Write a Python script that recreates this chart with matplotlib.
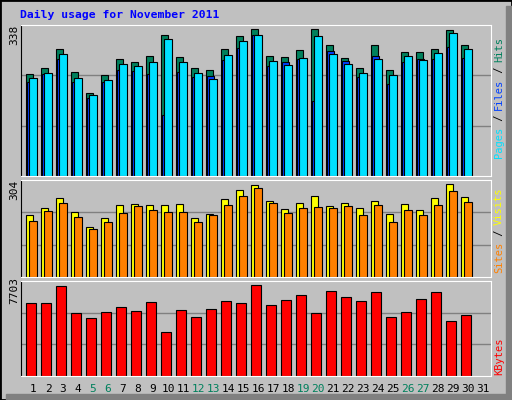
import matplotlib
matplotlib.use("Agg")
import matplotlib.pyplot as plt
from matplotlib.patches import Rectangle

days = list(range(1, 32))
hits = [228,242,285,233,185,226,262,255,269,316,266,242,238,285,313,329,269,266,282,329,293,264,242,293,237,278,278,285,327,293]
files = [210,229,262,210,174,210,237,234,228,136,233,221,224,260,286,316,246,255,262,168,279,257,221,269,206,255,262,262,289,264]
pages = [219,230,273,219,181,214,251,246,255,307,255,230,217,271,302,316,257,248,264,313,273,251,231,262,226,269,260,275,320,284]
visits = [193,215,247,203,156,184,225,228,225,225,228,184,196,243,272,287,237,212,231,253,222,231,215,237,196,228,209,247,290,250]
sites = [175,206,231,187,149,171,200,222,209,203,203,171,193,225,253,278,231,200,215,218,215,222,193,225,171,209,193,225,269,234]
kbytes = [5925,5925,7298,5117,4713,5198,5601,5278,6005,3582,5359,4794,5440,6086,5925,7379,5763,6167,6571,5117,6894,6409,6086,6813,4794,5198,6248,6813,4470,4955]
weekends = [5,6,12,13,19,20,26,27]
title = "Daily usage for November 2011"

W, H = 512, 400
fig = plt.figure(figsize=(W/100, H/100), dpi=100)
fig.patch.set_facecolor("#C0C0C0")
mono = "DejaVu Sans Mono"

fig.add_artist(Rectangle((0, 0), 1, 1, transform=fig.transFigure, fill=False, ec="black", lw=2))
fig.add_artist(Rectangle((1-6/W, 0), 6/W, 1-6/H, transform=fig.transFigure, color="#808080"))
fig.add_artist(Rectangle((6/W, 0), 1-6/W, 6/H, transform=fig.transFigure, color="#808080"))
fig.text(20/W, 1-15/H, title, color="#0000FF", fontsize=8.2, fontweight="bold", family=mono, va="center")

def mkax(top, bot, ymax, label):
    ax = fig.add_axes([21/W, 1-bot/H, (491-21)/W, (bot-top)/H])
    ax.set_facecolor("#C0C0C0")
    ax.set_xlim(0.2, 31.53)
    ax.set_ylim(0, ymax)
    for y in (ymax/3, 2*ymax/3):
        ax.axhline(y, color="#808080", lw=1, zorder=0)
    ax.set_xticks([]); ax.set_yticks([])
    for s in ("top", "right", "bottom"):
        ax.spines[s].set_color("white")
    ax.spines["left"].set_color("black")
    fig.text(14/W, 1-(top+10)/H, label, rotation=90, fontsize=8, family=mono, ha="center", va="center")
    return ax

def bars(ax, vals, off, w, color):
    ax.bar([d+off for d in days[:len(vals)]], vals, width=w, align="edge", color=color, ec="black", lw=0.8)

ax1 = mkax(25, 176, 338, "338")
bars(ax1, hits, -0.50, 0.48, "#00805C")
bars(ax1, files, -0.37, 0.42, "#0040FF")
bars(ax1, pages, -0.24, 0.48, "#00E0FF")

ax2 = mkax(180, 277, 304, "304")
bars(ax2, visits, -0.50, 0.48, "#FFFF00")
bars(ax2, sites, -0.24, 0.48, "#FF8000")

ax3 = mkax(281, 376, 7703, "7703")
bars(ax3, kbytes, -0.44, 0.62, "#FF0000")

def side(parts, ycenter):
    total = sum(len(t) for t, _ in parts)
    ch = 6.0
    y0 = ycenter + total*ch/2
    for t, c in parts:
        fig.text(499/W, 1-(y0 - len(t)*ch/2)/H, t, color=c, rotation=90, fontsize=7.5, family=mono, ha="center", va="center")
        y0 -= len(t)*ch

side([("Pages", "#00E0FF"), (" / ", "black"), ("Files", "#0040FF"), (" / ", "black"), ("Hits", "#00805C")], 97)
side([("Sites", "#FF8000"), (" / ", "black"), ("Visits", "#FFFF00")], 230)
side([("KBytes", "#FF0000")], 356)

for d in days:
    x = 21 + (d - 0.2) * 15.0
    fig.text(x/W, 1-389/H, str(d), color="#00805C" if d in weekends else "black",
             fontsize=8, family=mono, ha="center", va="center")

fig.savefig("out.png", dpi=100, facecolor=fig.get_facecolor())
